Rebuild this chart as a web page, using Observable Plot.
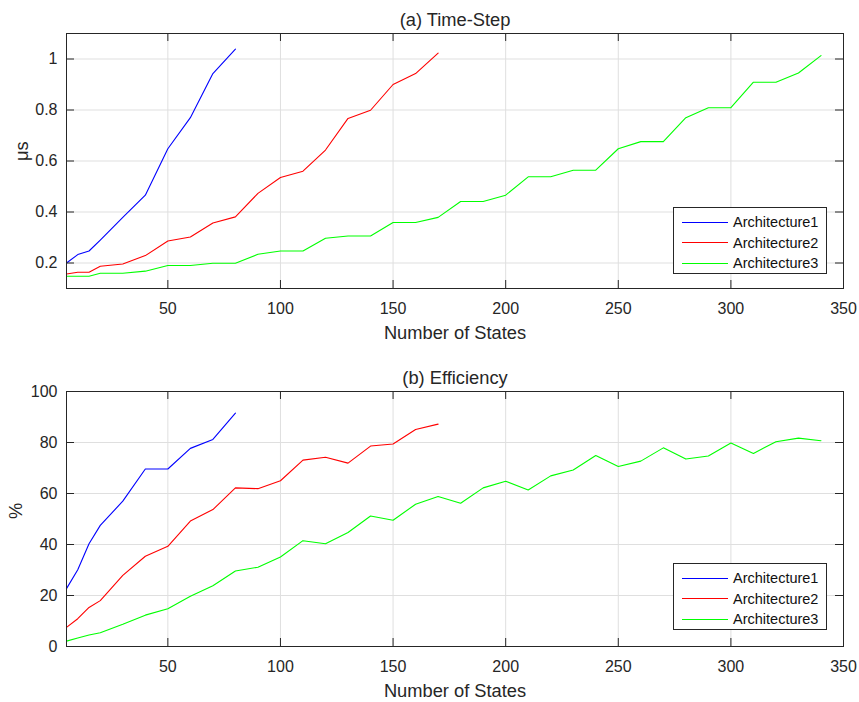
<!DOCTYPE html>
<html>
<head>
<meta charset="utf-8">
<script src="https://cdn.jsdelivr.net/npm/d3@7"></script>
<script src="https://cdn.jsdelivr.net/npm/@observablehq/plot@0.6"></script>
<style>
  body { margin: 0; background: #fff; font-family: "Liberation Sans", Arial, sans-serif; }
  #wrap { position: relative; width: 859px; height: 702px; }
  #wrap svg { display: block; }
  .legend { position: absolute; border: 1px solid #262626; background: #fff; box-sizing: border-box; }
  .legend .row { position: absolute; left: 0; height: 20px; display: flex; align-items: center; font-size: 14.5px; color: #111; white-space: nowrap; }
  .legend .sw { width: 46px; height: 0; border-top: 1.3px solid; margin-left: 8px; margin-right: 5px; }
</style>
</head>
<body>
<div id="wrap"></div>
<script>
// ---- data ----
const seriesNames = ["Architecture1", "Architecture2", "Architecture3"];
const seriesColors = ["#0000ff", "#ff0000", "#00ff00"];

const states1 = [5, 10, 15, 20, 30, 40, 50, 60, 70, 80];
const states2 = [5, 10, 15, 20, 30, 40, 50, 60, 70, 80, 90, 100, 110, 120, 130, 140, 150, 160, 170];
const states3 = [5, 10, 15, 20, 30, 40, 50, 60, 70, 80, 90, 100, 110, 120, 130, 140, 150, 160, 170,
                 180, 190, 200, 210, 220, 230, 240, 250, 260, 270, 280, 290, 300, 310, 320, 330, 340];

const timeStep1 = [0.200, 0.233, 0.247, 0.290, 0.379, 0.466, 0.648, 0.770, 0.943, 1.039];
const timeStep2 = [0.157, 0.164, 0.164, 0.187, 0.196, 0.229, 0.286, 0.302, 0.357, 0.381,
                   0.473, 0.535, 0.560, 0.643, 0.767, 0.799, 0.900, 0.943, 1.023];
const timeStep3 = [0.148, 0.148, 0.148, 0.160, 0.160, 0.168, 0.190, 0.190, 0.199, 0.199,
                   0.234, 0.247, 0.247, 0.297, 0.306, 0.306, 0.359, 0.359, 0.379, 0.441,
                   0.441, 0.466, 0.538, 0.538, 0.564, 0.564, 0.648, 0.676, 0.676, 0.770,
                   0.809, 0.809, 0.909, 0.909, 0.945, 1.013];

const efficiency1 = [22.7, 30.1, 40.3, 47.5, 57.0, 69.6, 69.6, 77.7, 81.2, 91.5];
const efficiency2 = [7.5, 10.9, 15.3, 18.0, 27.9, 35.4, 39.3, 49.2, 53.7, 62.2,
                     61.9, 65.0, 73.1, 74.2, 71.9, 78.6, 79.4, 85.1, 87.2];
const efficiency3 = [2.1, 3.3, 4.5, 5.4, 8.7, 12.3, 14.8, 19.7, 23.8, 29.6,
                     31.1, 35.1, 41.5, 40.3, 44.7, 51.2, 49.5, 55.8, 58.8, 56.2,
                     62.2, 64.8, 61.4, 66.9, 69.2, 74.9, 70.6, 72.7, 77.9, 73.5,
                     74.7, 79.8, 75.7, 80.3, 81.7, 80.7];

const xTicks = [50, 100, 150, 200, 250, 300, 350];
const xDomain = [5, 350];
const timeTicks = [0.2, 0.4, 0.6, 0.8, 1];
const timeDomain = [0.1, 1.1];
const effTicks = [0, 20, 40, 60, 80, 100];
const effDomain = [0, 100];

const statesList = [states1, states2, states3];

function toRows(valuesList) {
  return valuesList.flatMap((vals, i) =>
    vals.map((v, j) => ({ series: seriesNames[i], states: statesList[i][j], value: v })));
}

const W = 859;
const frameW = 843 - 66;
const frameH = 255;
const tickLen = 8;
const ink = "#262626";
const gridColor = "#dfdfdf";
const fmt = d => `${d}`;

function panel({ rows, yDomain, yTicks, yLabel, yLabelDx, title, height, marginTop, marginBottom }) {
  return Plot.plot({
    width: W,
    height,
    marginLeft: 66,
    marginRight: 16,
    marginTop,
    marginBottom,
    style: { fontFamily: '"Liberation Sans", Arial, sans-serif', fontSize: "16px", color: ink, background: "#fff", overflow: "visible" },
    x: { domain: xDomain, axis: null },
    y: { domain: yDomain, axis: null },
    color: { domain: seriesNames, range: seriesColors },
    marks: [
      Plot.gridX(xTicks, { stroke: gridColor, strokeOpacity: 1 }),
      Plot.gridY(yTicks, { stroke: gridColor, strokeOpacity: 1 }),
      Plot.line(rows, { x: "states", y: "value", z: "series", stroke: "series", strokeWidth: 1.1 }),
      // inward ticks
      Plot.ruleX(xTicks, { x: d => d, stroke: ink, strokeWidth: 1, insetTop: frameH - tickLen }),
      Plot.ruleX(xTicks, { x: d => d, stroke: ink, strokeWidth: 1, insetBottom: frameH - tickLen }),
      Plot.ruleY(yTicks, { y: d => d, stroke: ink, strokeWidth: 1, insetRight: frameW - tickLen }),
      Plot.ruleY(yTicks, { y: d => d, stroke: ink, strokeWidth: 1, insetLeft: frameW - tickLen }),
      Plot.frame({ stroke: ink, strokeWidth: 1 }),
      Plot.axisX(xTicks, { anchor: "bottom", tickSize: 0, tickPadding: 14, fontSize: 16, tickFormat: fmt, label: null }),
      Plot.axisY(yTicks, { anchor: "left", tickSize: 0, tickPadding: 9, fontSize: 16, tickFormat: fmt, label: null }),
      Plot.text(["Number of States"], { frameAnchor: "bottom", lineAnchor: "middle", dy: 45, fontSize: 18.3, fill: ink }),
      Plot.text([yLabel], { frameAnchor: "left", lineAnchor: "middle", dx: yLabelDx, rotate: -90, fontSize: 18.3, fill: ink }),
      Plot.text([title], { frameAnchor: "top", lineAnchor: "middle", dy: -13.5, fontSize: 18.3, fill: ink })
    ]
  });
}

const wrap = document.getElementById("wrap");
wrap.appendChild(panel({
  rows: toRows([timeStep1, timeStep2, timeStep3]),
  yDomain: timeDomain, yTicks: timeTicks, yLabel: "μs", yLabelDx: -44,
  title: "(a) Time-Step", height: 351, marginTop: 33, marginBottom: 63
}));
wrap.appendChild(panel({
  rows: toRows([efficiency1, efficiency2, efficiency3]),
  yDomain: effDomain, yTicks: effTicks, yLabel: "%", yLabelDx: -50,
  title: "(b) Efficiency", height: 351, marginTop: 40, marginBottom: 56
}));

function legend(top) {
  const box = document.createElement("div");
  box.className = "legend";
  Object.assign(box.style, { left: "673px", top: top + "px", width: "154px", height: "67px" });
  seriesNames.forEach((name, i) => {
    const row = document.createElement("div");
    row.className = "row";
    row.style.top = (4 + i * 20.5) + "px";
    const sw = document.createElement("span");
    sw.className = "sw";
    sw.style.borderTopColor = seriesColors[i];
    const t = document.createElement("span");
    t.textContent = name;
    row.appendChild(sw);
    row.appendChild(t);
    box.appendChild(row);
  });
  wrap.appendChild(box);
}
legend(207);
legend(563);
</script>
</body>
</html>
